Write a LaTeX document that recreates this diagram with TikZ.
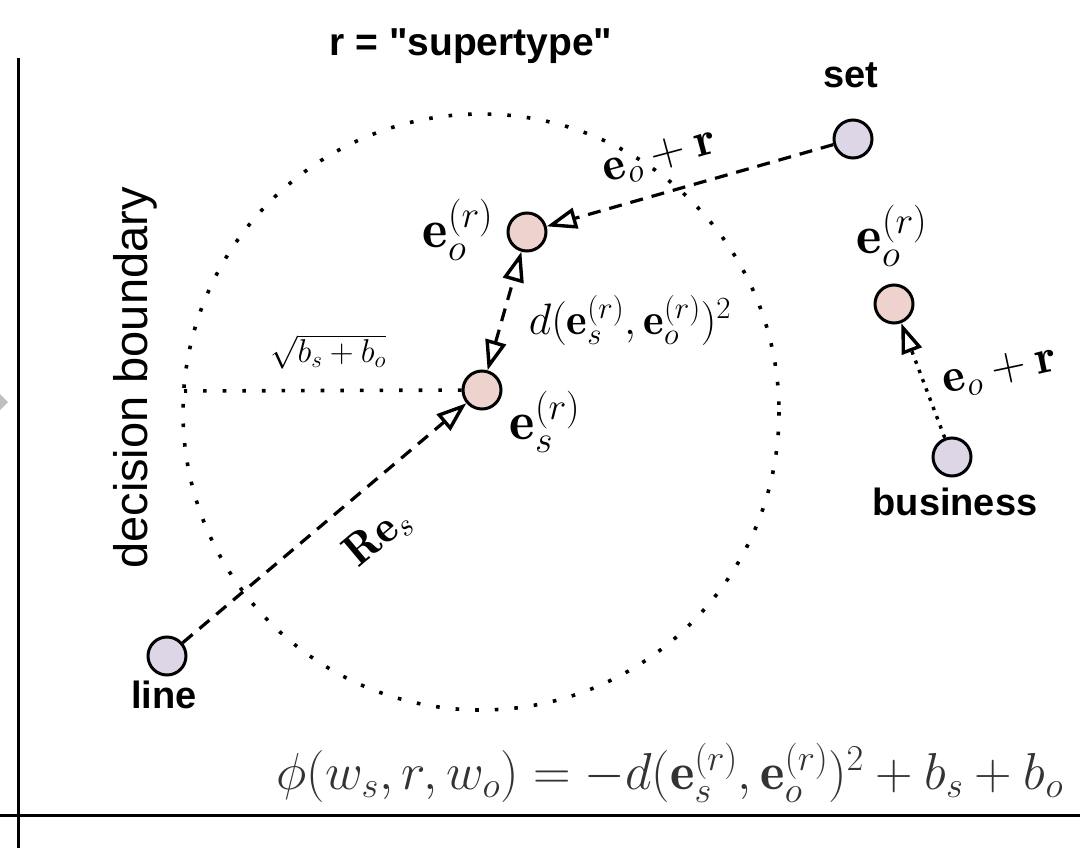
\RequirePackage{fix-cm}
\documentclass[tikz,border=0pt]{standalone}
\usepackage{fontspec}
\setsansfont{Liberation Sans}
\newfontfamily\titlefont{Liberation Sans}[Ligatures=TeXOff]
\usetikzlibrary{arrows.meta}
\definecolor{pinkfill}{HTML}{EDD2CD}
\definecolor{purpfill}{HTML}{DDD6E6}
\begin{document}
\begin{tikzpicture}[x=1pt,y=-1pt,
  ent/.style={circle, draw=black, line width=3pt, minimum size=38pt, inner sep=0pt},
  emb/.style={ent, fill=pinkfill},
  word/.style={ent, fill=purpfill},
  wlabel/.style={font=\fontsize{38}{44}\selectfont\sffamily\bfseries, inner sep=0pt},
  dashln/.style={line width=3.2pt, dash pattern=on 13pt off 9pt},
  dotln/.style={line width=3.6pt, dash pattern=on 3.6pt off 16pt},
  fineln/.style={line width=3.4pt, dash pattern=on 3.4pt off 6.5pt},
  tiphead/.tip={Triangle[open,length=30pt,width=21pt,line width=3.4pt]},
  tipend/.style={-tiphead},
  tipboth/.style={tiphead-tiphead},
  mlab/.style={inner sep=0pt},
]
\useasboundingbox (0,0) rectangle (1090,856);

% axes
\draw[line width=3pt] (18,58) -- (18,848);
\draw[line width=3pt] (0,815) -- (1080,815);
\fill[black!25] (0,394) -- (8,402) -- (0,410) -- cycle;

% decision boundary circle
\draw[dotln] (481,412) circle[radius=298];

% nodes
\node[word] (set) at (853,139) {};
\node[emb] (eo) at (527,232) {};
\node[emb] (es) at (482,390) {};
\node[word] (line) at (167,656) {};
\node[emb] (eo2) at (894,304) {};
\node[word] (bus) at (952,457) {};

\coordinate (left) at (184,391);

% word labels
\node[wlabel] at (851,75) {set};
\node[wlabel] at (164,695) {line};
\node[wlabel] at (955,502) {business};
\node[font=\fontsize{39}{46}\selectfont\titlefont\bfseries, inner sep=0pt] at (471,46) {r = "supertype"};
\node[font=\fontsize{47}{54}\selectfont\sffamily, rotate=90, inner sep=0pt] at (135,378) {decision boundary};

% connectors
\draw[dotln] (es) -- (left);
\draw[dashln, tipend] (set) -- (eo);
\draw[dashln, tipboth] (es) -- (eo);
\draw[dashln, tipend] (line) -- (es);
\draw[fineln, tipend] (bus) -- (eo2);

% math labels
\node[mlab, font=\fontsize{54}{60}\selectfont] at (458,230) {$\mathbf{e}_o^{(r)}$};
\node[mlab, font=\fontsize{54}{60}\selectfont] at (545,422) {$\mathbf{e}_s^{(r)}$};
\node[mlab, font=\fontsize{54}{60}\selectfont] at (892,236) {$\mathbf{e}_o^{(r)}$};
\node[mlab, font=\fontsize{44}{50}\selectfont] at (630,320) {$d(\mathbf{e}_s^{(r)}, \mathbf{e}_o^{(r)})^2$};
\node[mlab, font=\fontsize{48}{56}\selectfont, rotate=15] at (660,158) {$\mathbf{e}_o + \mathbf{r}$};
\node[mlab, font=\fontsize{48}{56}\selectfont, rotate=12] at (1000,372) {$\mathbf{e}_o + \mathbf{r}$};
\node[mlab, font=\fontsize{45}{52}\selectfont, rotate=40] at (378,537) {$\mathbf{R}\mathbf{e}_s$};
\node[mlab, font=\fontsize{33}{40}\selectfont] at (328,352) {$\sqrt{b_s + b_o}$};
\node[mlab, font=\fontsize{52}{60}\selectfont, text=black!80] at (670,773) {$\phi(w_s, r, w_o) = -d(\mathbf{e}_s^{(r)}, \mathbf{e}_o^{(r)})^2 + b_s + b_o$};
\end{tikzpicture}
\end{document}
